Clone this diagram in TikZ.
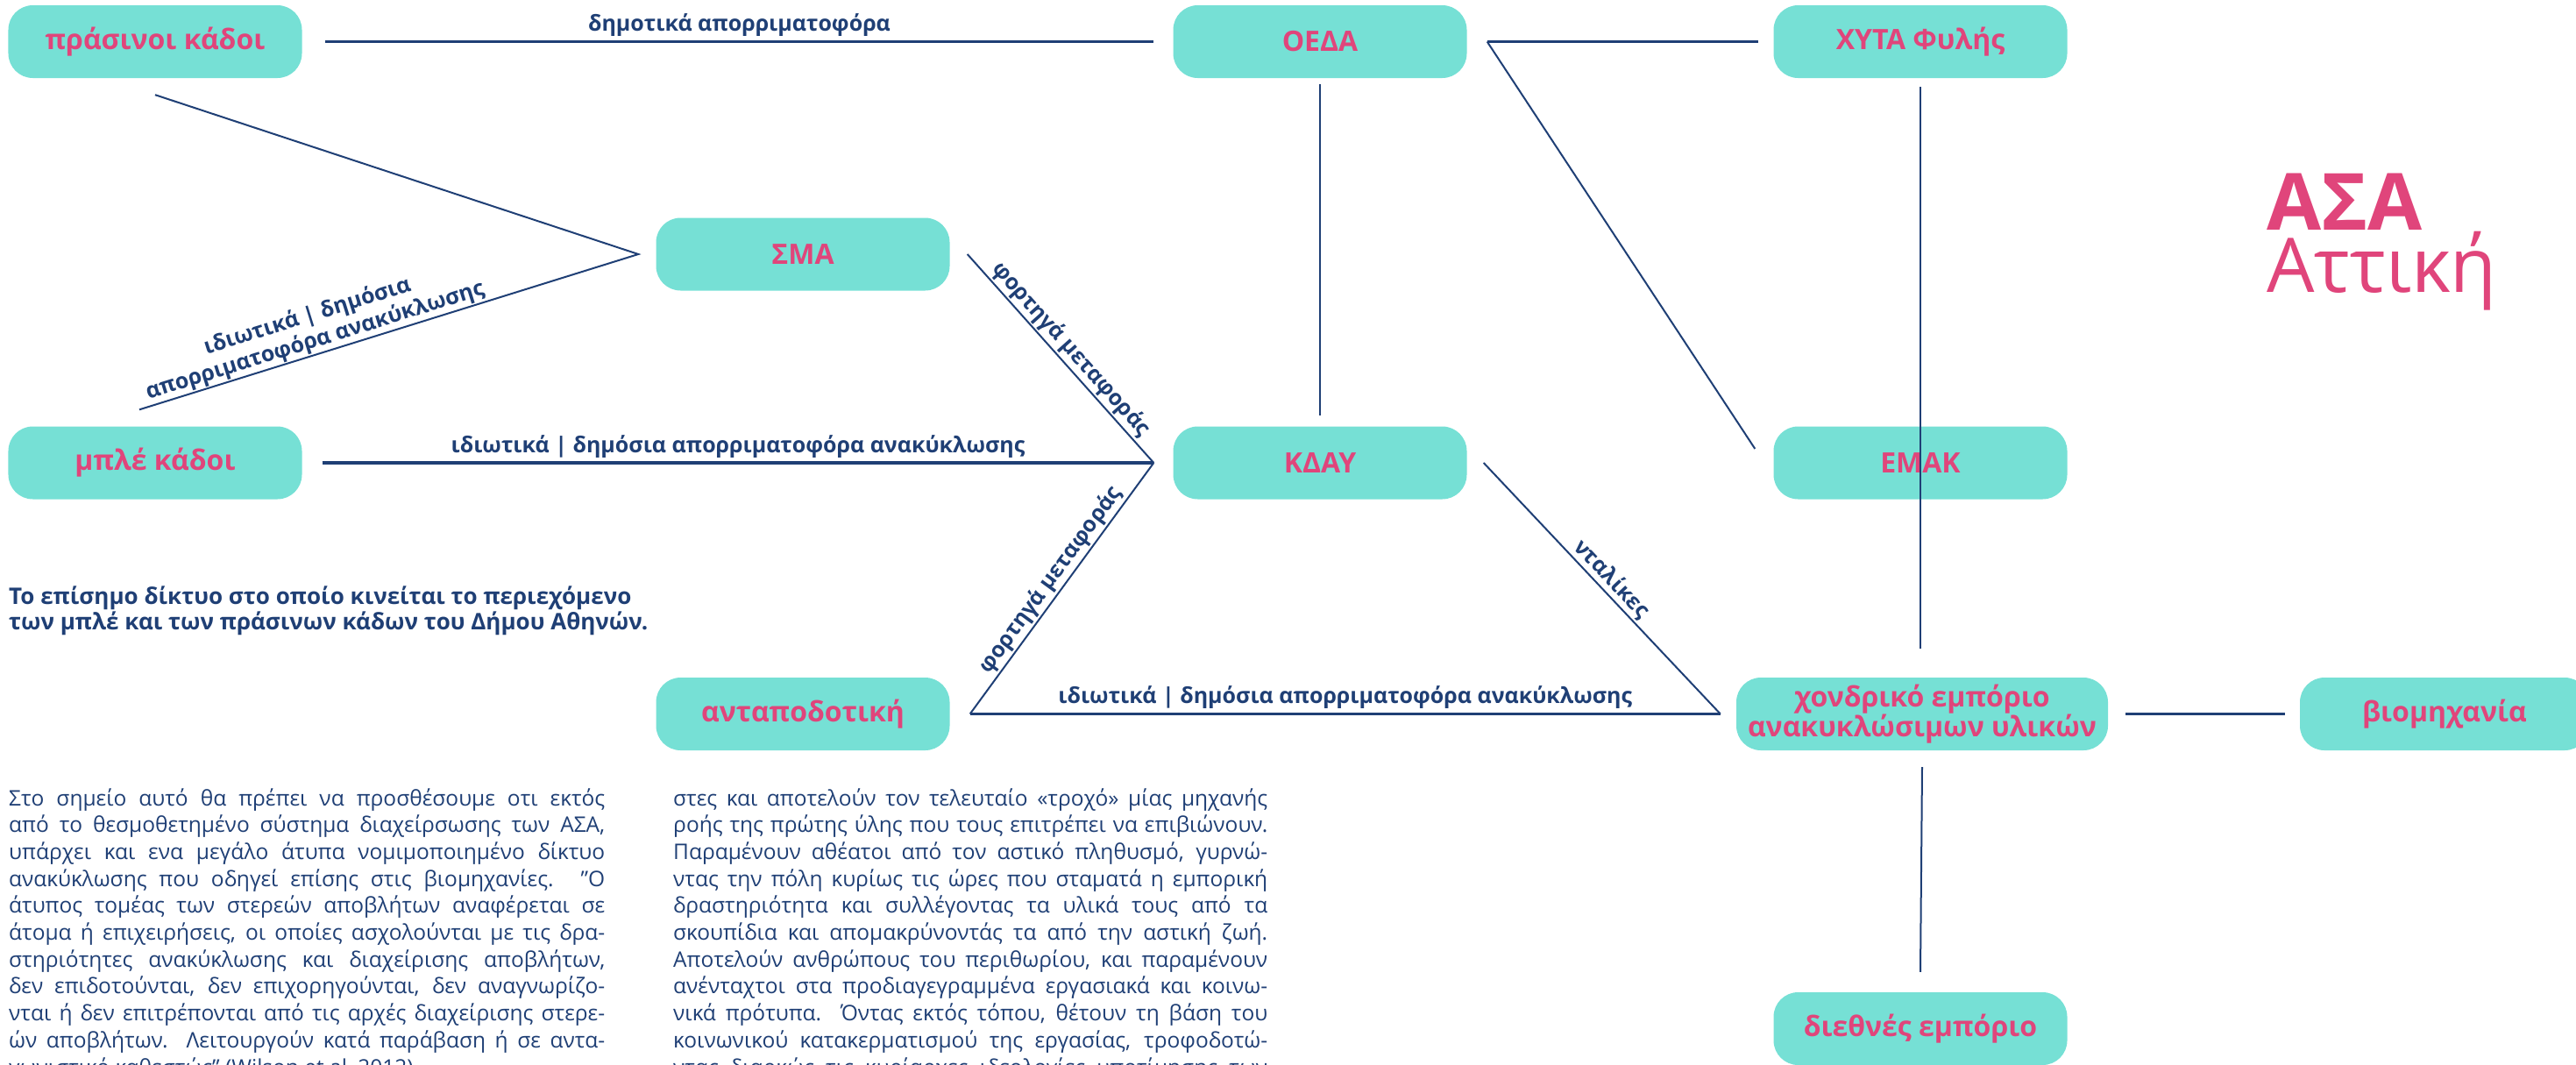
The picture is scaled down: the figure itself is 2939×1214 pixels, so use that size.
\documentclass[tikz,border=0pt]{standalone}
\usepackage{fontspec}
\setmainfont{Open Sans}
\definecolor{boxc}{HTML}{76E0D5}
\definecolor{pinkc}{HTML}{E0457B}
\definecolor{navy}{HTML}{1F3F75}
\begin{document}
\begin{tikzpicture}[x=1bp,y=-1bp,
  box/.style={fill=boxc, rounded corners=28bp, minimum width=335bp, minimum height=83bp,
    inner sep=0pt, text=pinkc, font=\bfseries\fontsize{32bp}{31bp}\selectfont, align=center},
  conn/.style={draw=navy, line width=2bp},
  hconn/.style={draw=navy, line width=3.5bp},
  elab/.style={text=navy, font=\bfseries\fontsize{25bp}{29bp}\selectfont, inner sep=2bp, align=center},
  body/.style={text=navy, font=\fontsize{24.5bp}{30bp}\selectfont, inner sep=0pt, anchor=base west},
  capt/.style={text=navy, font=\bfseries\fontsize{26bp}{29bp}\selectfont, inner sep=0pt, anchor=base west}]
\useasboundingbox (0,0) rectangle (2939,1214);
\clip (0,0) rectangle (2939,1214);

% nodes
\node[box] (green) at (177,47.5) {πράσινοι κάδοι};
\node[box] (oeda) at (1506,47.5) {ΟΕΔΑ};
\node[box] (xyta) at (2191,47.5) {ΧΥΤΑ Φυλής};
\node[box] (sma) at (916,290) {ΣΜΑ};
\node[box] (blue) at (177,528) {μπλέ κάδοι};
\node[box] (kday) at (1506,528) {ΚΔΑΥ};
\node[box] (antap) at (916,814.5) {ανταποδοτική};
\node[box, minimum width=424bp] (xondr) at (2193,814.5) {χονδρικό εμπόριο\\ανακυκλώσιμων υλικών};
\node[box, minimum width=330bp] (biom) at (2789,814.5) {βιομηχανία};
\node[box] (dieth) at (2191,1173.5) {διεθνές εμπόριο};

% connector end points
\coordinate (greenE) at ([xshift=26bp]green.east);
\coordinate (greenS) at ([yshift=-19bp]green.south);
\coordinate (oedaW) at ([xshift=-22bp]oeda.west);
\coordinate (oedaE) at ([xshift=23bp]oeda.east);
\coordinate (oedaS) at ([yshift=-7bp]oeda.south);
\coordinate (xytaW) at ([xshift=-17bp]xyta.west);
\coordinate (xytaS) at ([yshift=-10bp]xyta.south);
\coordinate (smaW) at ([xshift=-20bp]sma.west);
\coordinate (smaE) at ([xshift=20bp]sma.east);
\coordinate (blueN) at ([xshift=-18bp,yshift=19bp]blue.north);
\coordinate (blueE) at ([xshift=23bp]blue.east);
\coordinate (kdayW) at ([xshift=-22bp]kday.west);
\coordinate (kdayE) at ([xshift=19bp]kday.east);
\coordinate (kdayN) at ([yshift=12bp]kday.north);
\coordinate (antapE) at ([xshift=23bp]antap.east);
\coordinate (xondrW) at ([xshift=-18bp]xondr.west);
\coordinate (xondrE) at ([xshift=20bp]xondr.east);
\coordinate (xondrN) at ([yshift=33bp]xondr.north);
\coordinate (xondrS) at ([yshift=-19bp]xondr.south);
\coordinate (biomW) at ([xshift=-17bp]biom.west);
\coordinate (diethN) at ([yshift=23bp]dieth.north);

% EMAK box (the vertical line from ΧΥΤΑ passes over it)
\node[box] (emak) at (2191,528) {ΕΜΑΚ};
\coordinate (emakW) at ([xshift=-21bp,yshift=16bp]emak.west);

% connectors
\draw[hconn] (greenE) -- node[elab, above=2bp] (l1) {δημοτικά απορριματοφόρα} (oedaW);
\draw[hconn] (oedaE) -- (xytaW);
\draw[conn] (oedaE) -- (emakW);
\draw[conn] (oedaS) -- (kdayN);
\draw[conn] (greenS) -- (smaW) -- (blueN);
\path (blueN) -- node[elab, sloped, pos=0.36, anchor=south] (l2) {ιδιωτικά | δημόσια\\απορριματοφόρα ανακύκλωσης} (smaW);
\draw[hconn] (blueE) -- node[elab, above=2bp] (l3) {ιδιωτικά | δημόσια απορριματοφόρα ανακύκλωσης} (kdayW);
\draw[conn] (smaE) -- node[elab, sloped, midway, anchor=south] (l4) {φορτηγά μεταφοράς} (kdayW);
\draw[conn] (antapE) -- node[elab, sloped, midway, anchor=south] (l5) {φορτηγά μεταφοράς} (kdayW);
\draw[hconn] (antapE) -- node[elab, above=2bp] (l6) {ιδιωτικά | δημόσια απορριματοφόρα ανακύκλωσης} (xondrW);
\draw[conn] (kdayE) -- node[elab, sloped, midway, anchor=south] (l7) {νταλίκες} (xondrW);
\draw[conn] (xytaS) -- (xytaS |- xondrN);
\draw[hconn] (xondrE) -- (biomW);
\draw[conn] (xondrS) -- (diethN);

% title
\node[anchor=base west, inner sep=0pt, text=pinkc, font=\bfseries\fontsize{90bp}{90bp}\selectfont] (t1) at (2586,262) {ΑΣΑ};
\node[anchor=base west, inner sep=0pt, text=pinkc, font=\fontsize{86bp}{86bp}\selectfont] (t2) at (2586,333) {Αττική};

% caption
\node[capt] (cap1) at (10,689) {Το επίσημο δίκτυο στο οποίο κινείται το περιεχόμενο};
\node[capt] (cap2) at (10,718) {των μπλέ και των πράσινων κάδων του Δήμου Αθηνών.};

% body text, left column
\foreach \bl [count=\i] in {
{Στο σημείο αυτό θα πρέπει να προσθέσουμε οτι εκτός},
{από το θεσμοθετημένο σύστημα διαχείρσωσης των ΑΣΑ,},
{υπάρχει και ενα μεγάλο άτυπα νομιμοποιημένο δίκτυο},
{ανακύκλωσης που οδηγεί επίσης στις βιομηχανίες. "Ο},
{άτυπος τομέας των στερεών αποβλήτων αναφέρεται σε},
{άτομα ή επιχειρήσεις, οι οποίες ασχολούνται με τις δρα-},
{στηριότητες ανακύκλωσης και διαχείρισης αποβλήτων,},
{δεν επιδοτούνται, δεν επιχορηγούνται, δεν αναγνωρίζο-},
{νται ή δεν επιτρέπονται από τις αρχές διαχείρισης στερε-},
{ών αποβλήτων. Λειτουργούν κατά παράβαση ή σε αντα-}}
  \node[body, name=bl\i] at ({10},{888.3+30.7*\i}) {\makebox[680bp][s]{\bl}};
\node[body] (bl11) at (10,1226.7) {γωνιστικό καθεστώς" (Wilson et al, 2012).};

% body text, right column
\foreach \br [count=\i] in {
{στες και αποτελούν τον τελευταίο «τροχό» μίας μηχανής},
{ροής της πρώτης ύλης που τους επιτρέπει να επιβιώνουν.},
{Παραμένουν αθέατοι από τον αστικό πληθυσμό, γυρνώ-},
{ντας την πόλη κυρίως τις ώρες που σταματά η εμπορική},
{δραστηριότητα και συλλέγοντας τα υλικά τους από τα},
{σκουπίδια και απομακρύνοντάς τα από την αστική ζωή.},
{Αποτελούν ανθρώπους του περιθωρίου, και παραμένουν},
{ανένταχτοι στα προδιαγεγραμμένα εργασιακά και κοινω-},
{νικά πρότυπα. Όντας εκτός τόπου, θέτουν τη βάση του},
{κοινωνικού κατακερματισμού της εργασίας, τροφοδοτώ-},
{ντας διαρκώς τις κυρίαρχες ιδεολογίες υποτίμησης των}}
  \node[body, name=br\i] at ({768},{888.3+30.7*\i}) {\makebox[678bp][s]{\br}};
\end{tikzpicture}
\end{document}
